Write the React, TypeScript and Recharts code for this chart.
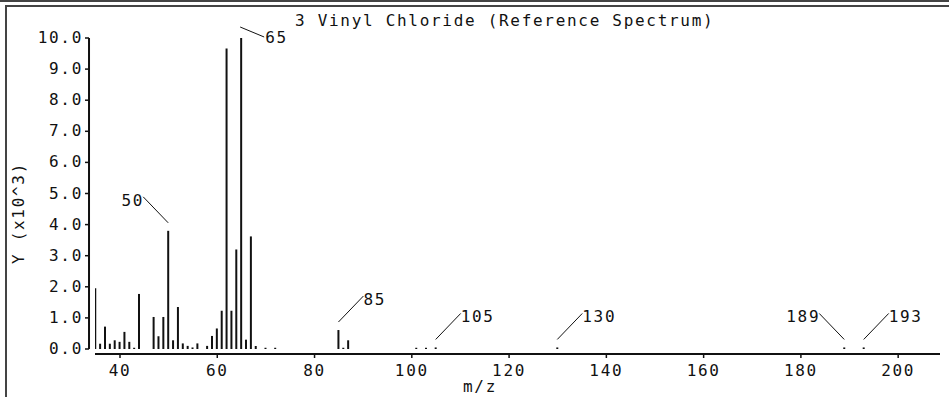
import { ComposedChart, Bar, XAxis, YAxis, ReferenceLine, LabelList, Label } from 'recharts';

const mz = [
  35, 36, 37, 38, 39, 40, 41, 42, 43, 44, 47, 48, 49, 50, 51, 52, 53, 54, 55, 56, 58, 59, 60, 61, 62,
  63, 64, 65, 66, 67, 68, 70, 72, 85, 86, 87, 101, 103, 105, 130, 189, 193,
];
// intensity in units of 10^3
const intensity = [
  1.95, 0.17, 0.72, 0.17, 0.28, 0.23, 0.55, 0.23, 0.04, 1.77, 1.03, 0.41, 1.03, 3.8, 0.28, 1.35, 0.18,
  0.1, 0.05, 0.18, 0.1, 0.42, 0.66, 1.23, 9.66, 1.23, 3.2, 10.0, 0.3, 3.62, 0.1, 0.04, 0.04, 0.61, 0.04,
  0.28, 0.04, 0.04, 0.05, 0.05, 0.05, 0.05,
];
const taggedPeaks = [50, 65, 85, 105, 130, 189, 193];
const leftTagged = [50, 189];
const topTagged = [65];
const xTicks = [40, 60, 80, 100, 120, 140, 160, 180, 200];
const yTicks = [0, 1, 2, 3, 4, 5, 6, 7, 8, 9, 10];

const INK = '#111';
const FONT = '"DejaVu Sans Mono", monospace';
const FS = 16;
const LS = 1.7;

const data = mz.map((m, i) => ({
  mz: m,
  y: intensity[i],
  tag: taggedPeaks.includes(m) ? String(m) : undefined,
}));

const textStyle = { fontFamily: FONT, fontSize: FS, letterSpacing: LS, fill: INK };

function YTick({ x, y, payload }: any) {
  return (
    <g>
      <line x1={x - 10} x2={x - 6} y1={y} y2={y} stroke={INK} strokeWidth={1.5} />
      <text x={x - 12} y={y} dy={5} textAnchor="end" style={textStyle}>
        {Number(payload.value).toFixed(1)}
      </text>
    </g>
  );
}

function PeakTag(props: any) {
  const { x, y, width, value } = props;
  if (!value) return null;
  const cx = x + width / 2;
  const m = Number(value);
  if (topTagged.includes(m)) {
    return (
      <g>
        <line x1={cx - 1} y1={y - 11} x2={cx + 23} y2={y - 1} stroke={INK} strokeWidth={1} />
        <text x={cx + 24} y={y + 5} style={textStyle}>{value}</text>
      </g>
    );
  }
  if (leftTagged.includes(m)) {
    const ex = cx - 25;
    const ey = y - 34;
    return (
      <g>
        <line x1={cx} y1={y - 8} x2={ex} y2={ey} stroke={INK} strokeWidth={1} />
        <text x={ex + 1} y={ey + 9} textAnchor="end" style={textStyle}>{value}</text>
      </g>
    );
  }
  const ex = cx + 25;
  const ey = y - 34;
  return (
    <g>
      <line x1={cx} y1={y - 8} x2={ex} y2={ey} stroke={INK} strokeWidth={1} />
      <text x={ex} y={ey + 9} style={textStyle}>{value}</text>
    </g>
  );
}

export default function App() {
  return (
    <div style={{ position: 'relative', width: 949, height: 397, background: '#fff', overflow: 'hidden' }}>
      <style>{'body{margin:0}'}</style>
      {/* panel frame */}
      <div style={{ position: 'absolute', left: 0, top: 0, width: 949, height: 2, background: '#444' }} />
      <div style={{ position: 'absolute', left: 5, top: 5, width: 944, height: 2, background: '#444' }} />
      <div style={{ position: 'absolute', left: 5, top: 5, width: 2, height: 392, background: '#444' }} />
      <div
        style={{
          position: 'absolute',
          left: 295,
          top: 13,
          fontFamily: FONT,
          fontSize: FS,
          lineHeight: '16px',
          letterSpacing: LS,
          color: INK,
          whiteSpace: 'pre',
        }}
      >
        3 Vinyl Chloride (Reference Spectrum)
      </div>
      <ComposedChart
        width={949}
        height={397}
        data={data}
        margin={{ top: 38, right: 9, bottom: 0, left: 35 }}
        style={{ position: 'absolute', left: 0, top: 0 }}
      >
        <XAxis
          dataKey="mz"
          type="number"
          domain={[34.86, 208.6]}
          allowDataOverflow
          ticks={xTicks}
          interval={0}
          height={43}
          tickSize={4}
          tickMargin={7}
          stroke={INK}
          axisLine={{ stroke: INK, strokeWidth: 2 }}
          tickLine={{ stroke: INK, strokeWidth: 1.5 }}
          tick={textStyle}
        >
          <Label
            content={({ viewBox }: any) => (
              <text x={viewBox.x + 385} y={viewBox.y + 38} textAnchor="middle" style={textStyle}>
                m/z
              </text>
            )}
          />
        </XAxis>
        <YAxis
          type="number"
          domain={[0, 10]}
          ticks={yTicks}
          interval={0}
          width={60}
          padding={{ top: 0, bottom: 5 }}
          axisLine={false}
          tickLine={false}
          tickSize={0}
          tickMargin={0}
          tick={<YTick />}
        >
          <Label
            content={({ viewBox }: any) => (
              <text
                x={viewBox.x - 16}
                y={viewBox.y + 175}
                textAnchor="middle"
                transform={`rotate(-90, ${viewBox.x - 16}, ${viewBox.y + 175})`}
                dy={5}
                style={textStyle}
              >
                Y (x10^3)
              </text>
            )}
          />
        </YAxis>
        <ReferenceLine
          segment={[
            { x: 33.63, y: 0 },
            { x: 33.63, y: 10 },
          ]}
          ifOverflow="visible"
          stroke={INK}
          strokeWidth={2}
        />
        <Bar dataKey="y" fill={INK} barSize={2} isAnimationActive={false}>
          <LabelList dataKey="tag" content={<PeakTag />} />
        </Bar>
      </ComposedChart>
    </div>
  );
}
